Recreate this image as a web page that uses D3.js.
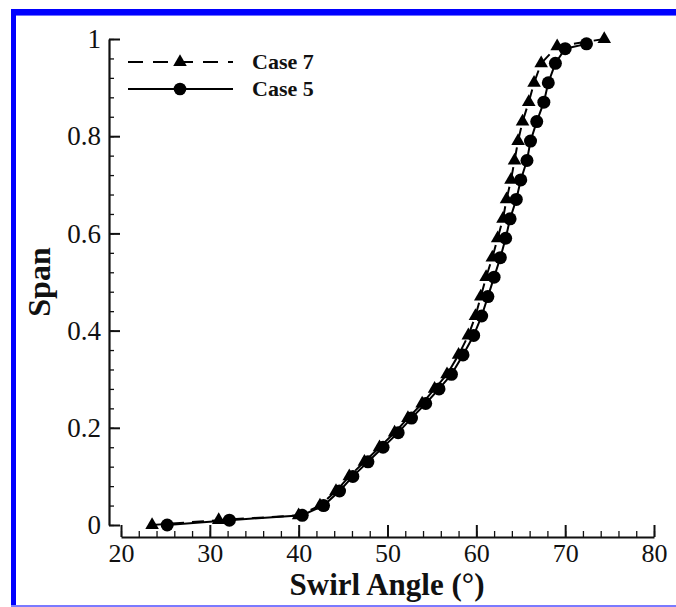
<!DOCTYPE html>
<html lang="en">
<head>
    <meta charset="UTF-8">
    <title>Swirl angle</title>
    <script src="https://d3js.org/d3.v7.min.js"></script>
    <style>
        body { margin: 0; background: #fff; }
        svg text { font-family: "Liberation Serif", "Times New Roman", serif; fill: #111; }
        .axis_title { font-size: 32px; font-weight: bold; }
        .legend_text { font-size: 22px; font-weight: bold; }
    </style>
</head>

<body>
    <svg width="676" height="607"></svg>

    <script>
        // span values shared by both series
        const span5 = [0, 0.01, 0.02, 0.04, 0.07, 0.10, 0.13, 0.16, 0.19, 0.22, 0.25, 0.28, 0.31, 0.35, 0.39,
            0.43, 0.47, 0.51, 0.55, 0.59, 0.63, 0.67, 0.71, 0.75, 0.79, 0.83, 0.87, 0.91, 0.95, 0.98, 0.99];
        const angle5 = [25.2, 32.2, 40.4, 42.8, 44.6, 46.1, 47.8, 49.5, 51.2, 52.7, 54.3, 55.8, 57.2, 58.5, 59.7,
            60.6, 61.3, 62.0, 62.7, 63.3, 63.8, 64.5, 65.0, 65.7, 66.1, 66.8, 67.6, 68.1, 68.9, 70.0, 72.4];

        const span7 = [0, 0.01, 0.02, 0.04, 0.07, 0.10, 0.13, 0.16, 0.19, 0.22, 0.25, 0.28, 0.31, 0.35, 0.39,
            0.43, 0.47, 0.51, 0.55, 0.59, 0.63, 0.67, 0.71, 0.75, 0.79, 0.83, 0.87, 0.91, 0.95, 0.985, 1.0];
        const angle7 = [23.5, 31.0, 40.0, 42.4, 44.2, 45.7, 47.4, 49.1, 50.8, 52.3, 53.9, 55.3, 56.7, 58.0, 59.1,
            59.9, 60.5, 61.1, 61.8, 62.4, 63.0, 63.4, 63.9, 64.3, 64.7, 65.2, 65.9, 66.5, 67.3, 69.1, 74.4];

        const xTicks = [20, 30, 40, 50, 60, 70, 80];
        const yTicks = [0, 0.2, 0.4, 0.6, 0.8, 1];
        const legendNames = ["Case 7", "Case 5"];

        let svg = d3.select("svg");

        // blue frame
        svg.append("rect").attr("x", 11).attr("y", 9).attr("width", 665).attr("height", 6).attr("fill", "#0000ff");
        svg.append("rect").attr("x", 11).attr("y", 15).attr("width", 665).attr("height", 1).attr("fill", "#7070ff");
        svg.append("rect").attr("x", 11).attr("y", 9).attr("width", 5).attr("height", 598).attr("fill", "#0000ff");
        svg.append("rect").attr("x", 11).attr("y", 605).attr("width", 665).attr("height", 2).attr("fill", "#7a7aff");

        let x = d3.scaleLinear().domain([20, 80]).range([121, 654]);
        let y = d3.scaleLinear().domain([0, 1]).range([525, 39]);

        // x axis: minor then major
        svg.append("g").attr("transform", "translate(0,537)")
            .call(d3.axisBottom(x).tickValues(d3.range(20, 81, 2)).tickSize(-6).tickSizeOuter(0).tickFormat(""))
            .call(g => g.select(".domain").remove())
            .call(g => g.selectAll("line").attr("stroke", "#111").attr("stroke-width", 1.3));
        svg.append("g").attr("transform", "translate(0,537)")
            .call(d3.axisBottom(x).tickValues(xTicks).tickSize(-12).tickSizeOuter(0).tickPadding(7))
            .call(g => g.select(".domain").attr("stroke", "#111").attr("stroke-width", 2.2))
            .call(g => g.selectAll("line").attr("stroke", "#111").attr("stroke-width", 2))
            .call(g => g.selectAll("text").attr("font-size", 26).attr("dy", "0.68em"));

        // y axis
        svg.append("g").attr("transform", "translate(109,0)")
            .call(d3.axisLeft(y).tickValues(d3.range(0, 1.001, 0.04)).tickSize(-5).tickSizeOuter(0).tickFormat(""))
            .call(g => g.select(".domain").remove())
            .call(g => g.selectAll("line").attr("stroke", "#111").attr("stroke-width", 1.3));
        svg.append("g").attr("transform", "translate(109,0)")
            .call(d3.axisLeft(y).tickValues(yTicks).tickSize(-11).tickSizeOuter(0).tickPadding(8).tickFormat(d3.format("")))
            .call(g => g.select(".domain").attr("stroke", "#111").attr("stroke-width", 2.2))
            .call(g => g.selectAll("line").attr("stroke", "#111").attr("stroke-width", 2))
            .call(g => g.selectAll("text").attr("font-size", 27));

        // titles
        svg.append("text").attr("class", "axis_title")
            .attr("x", 387).attr("y", 595).attr("text-anchor", "middle")
            .style("font-size", "31px")
            .text("Swirl Angle (°)");
        svg.append("text").attr("class", "axis_title")
            .attr("transform", "translate(50,282) rotate(-90)").attr("text-anchor", "middle")
            .text("Span");

        const line = d3.line().x(d => x(d[0])).y(d => y(d[1]));
        const tri = d3.symbol().type(d3.symbolTriangle).size(80);

        const pts7 = angle7.map((a, i) => [a, span7[i]]);
        const pts5 = angle5.map((a, i) => [a, span5[i]]);

        svg.append("path").datum(pts7).attr("d", line)
            .attr("fill", "none").attr("stroke", "#000").attr("stroke-width", 2).attr("stroke-dasharray", "12,8");
        svg.append("path").datum(pts5).attr("d", line)
            .attr("fill", "none").attr("stroke", "#000").attr("stroke-width", 2);

        svg.append("g").selectAll("path").data(pts7).enter().append("path")
            .attr("d", tri)
            .attr("transform", d => "translate(" + x(d[0]) + "," + y(d[1]) + ")")
            .attr("fill", "#000");
        svg.append("g").selectAll("circle").data(pts5).enter().append("circle")
            .attr("cx", d => x(d[0])).attr("cy", d => y(d[1])).attr("r", 6.5)
            .attr("fill", "#000");

        // legend
        let legend = svg.append("g");
        const legendY = [62, 89];
        legend.append("line").attr("x1", 128).attr("x2", 233).attr("y1", legendY[0]).attr("y2", legendY[0])
            .attr("stroke", "#000").attr("stroke-width", 2).attr("stroke-dasharray", "15,10");
        legend.append("path").attr("d", tri).attr("transform", "translate(180," + legendY[0] + ")").attr("fill", "#000");
        legend.append("line").attr("x1", 128).attr("x2", 233).attr("y1", legendY[1]).attr("y2", legendY[1])
            .attr("stroke", "#000").attr("stroke-width", 2);
        legend.append("circle").attr("cx", 180).attr("cy", legendY[1]).attr("r", 6.3).attr("fill", "#000");
        legend.selectAll("text").data(legendNames).enter().append("text")
            .attr("class", "legend_text")
            .attr("x", 252).attr("y", (d, i) => legendY[i] + 7)
            .text(d => d);
    </script>
</body>
</html>
